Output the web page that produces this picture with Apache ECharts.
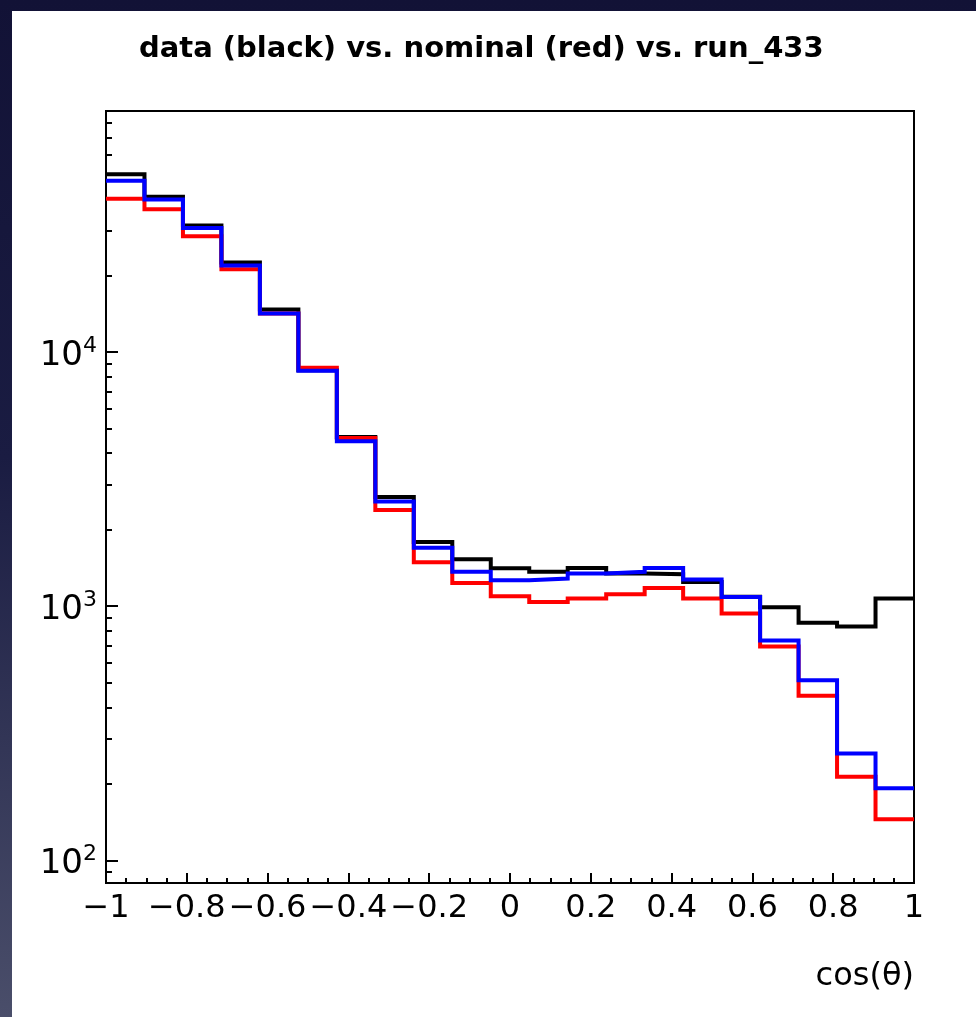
<!DOCTYPE html>
<html>
<head>
<meta charset="utf-8">
<script src="https://cdn.jsdelivr.net/npm/echarts@6/dist/echarts.min.js"></script>
<style>
html, body { margin: 0; padding: 0; width: 976px; height: 1017px; overflow: hidden;
  background: linear-gradient(to bottom, #121236 0%, #1a1c42 45%, #4a4e6a 100%); }
#chart { position: absolute; left: 12px; top: 11px; width: 964px; height: 1006px; background: #ffffff; }
</style>
</head>
<body>
<div id="chart"></div>
<script>
// ---- data ----
const titleText = 'data (black) vs. nominal (red) vs. run_433';
const xName = 'cos(\u03B8)';
const xMin = -1, xMax = 1, binCount = 21;
const dataBlack = [50100, 40900, 31500, 22500, 14700, 8480, 4630, 2690, 1790, 1530, 1410, 1365, 1415, 1345, 1337, 1246, 1090, 990, 860, 832, 1072];
const nominalRed = [40100, 36500, 28600, 21200, 14200, 8680, 4590, 2390, 1490, 1235, 1095, 1038, 1072, 1115, 1180, 1072, 936, 694, 444, 213, 145];
const run433Blue = [47300, 39900, 30800, 21900, 14200, 8440, 4460, 2580, 1700, 1365, 1266, 1285, 1345, 1365, 1415, 1274, 1088, 733, 511, 263, 192];
const yMajorTicks = [100, 1000, 10000];
const yMinorTicks = [90, 200, 300, 400, 500, 600, 700, 800, 900, 2000, 3000, 4000, 5000, 6000, 7000, 8000, 9000, 20000, 30000, 40000, 50000, 60000, 70000, 80000];
const yMin = 81.4, yMax = 88900;

// ---- build histogram step paths ----
const binWidth = (xMax - xMin) / binCount;
function histPoints(vals) {
  const pts = [];
  vals.forEach((v, i) => {
    pts.push([xMin + i * binWidth, v]);
    pts.push([xMin + (i + 1) * binWidth, v]);
  });
  return pts;
}

const FONT = 'DejaVu Sans';
const chart = echarts.init(document.getElementById('chart'), null, { renderer: 'canvas' });

function fmtX(v) {
  const r = Math.round(v * 100) / 100;
  if (r === 0) return '0';
  return (r < 0 ? '\u2212' : '') + String(Math.abs(r));
}

const option = {
  animation: false,
  backgroundColor: '#ffffff',
  title: {
    text: titleText,
    left: 122, top: 19,
    textStyle: { fontFamily: FONT, fontWeight: 'bold', fontSize: 29, color: '#000' }
  },
  grid: { left: 94, top: 100, right: 62, bottom: 134, show: true, borderColor: '#000', borderWidth: 2, backgroundColor: 'transparent' },
  xAxis: {
    type: 'value', min: xMin, max: xMax, interval: 0.2,
    axisLine: { show: true, onZero: false, lineStyle: { color: '#000', width: 2 } },
    axisTick: { show: true, inside: true, length: 10, lineStyle: { color: '#000', width: 2 } },
    minorTick: { show: true, splitNumber: 4, length: 5, lineStyle: { color: '#000', width: 2 } },
    splitLine: { show: false },
    axisLabel: { formatter: fmtX, fontFamily: FONT, fontSize: 32, color: '#000', margin: 10 }
  },
  yAxis: [
    {
      type: 'log', logBase: 10, min: yMin, max: yMax, position: 'left',
      axisLine: { show: true, onZero: false, lineStyle: { color: '#000', width: 2 } },
      axisTick: { show: true, inside: true, length: 12, customValues: yMajorTicks, lineStyle: { color: '#000', width: 2 } },
      splitLine: { show: false },
      axisLabel: {
        customValues: yMajorTicks, margin: 9,
        formatter: v => '{b|10}{s|' + Math.round(Math.log10(v)) + '}',
        rich: {
          b: { fontFamily: FONT, fontSize: 34, lineHeight: 34, color: '#000', padding: [8, 0, 0, 0] },
          s: { fontFamily: FONT, fontSize: 22, lineHeight: 22, color: '#000', verticalAlign: 'top' }
        }
      }
    },
    {
      type: 'log', logBase: 10, min: yMin, max: yMax, position: 'left', offset: 0,
      axisLine: { show: false, onZero: false },
      axisTick: { show: true, inside: true, length: 6, customValues: yMinorTicks, lineStyle: { color: '#000', width: 2 } },
      splitLine: { show: false },
      axisLabel: { show: false }
    }
  ],
  graphic: [{
    type: 'text', right: 62, top: 950,
    style: { text: xName, fontFamily: FONT, fontSize: 32, fill: '#000' }
  }],
  series: [
    { name: 'data', type: 'line', yAxisIndex: 0, data: histPoints(dataBlack), showSymbol: false, symbol: 'none', z: 2,
      lineStyle: { color: '#000000', width: 4, join: 'miter' }, itemStyle: { color: '#000' } },
    { name: 'nominal', type: 'line', yAxisIndex: 0, data: histPoints(nominalRed), showSymbol: false, symbol: 'none', z: 3,
      lineStyle: { color: '#ff0000', width: 4, join: 'miter' }, itemStyle: { color: '#f00' } },
    { name: 'run_433', type: 'line', yAxisIndex: 0, data: histPoints(run433Blue), showSymbol: false, symbol: 'none', z: 4,
      lineStyle: { color: '#0000ff', width: 4, join: 'miter' }, itemStyle: { color: '#00f' } }
  ]
};
chart.setOption(option);
</script>
</body>
</html>
